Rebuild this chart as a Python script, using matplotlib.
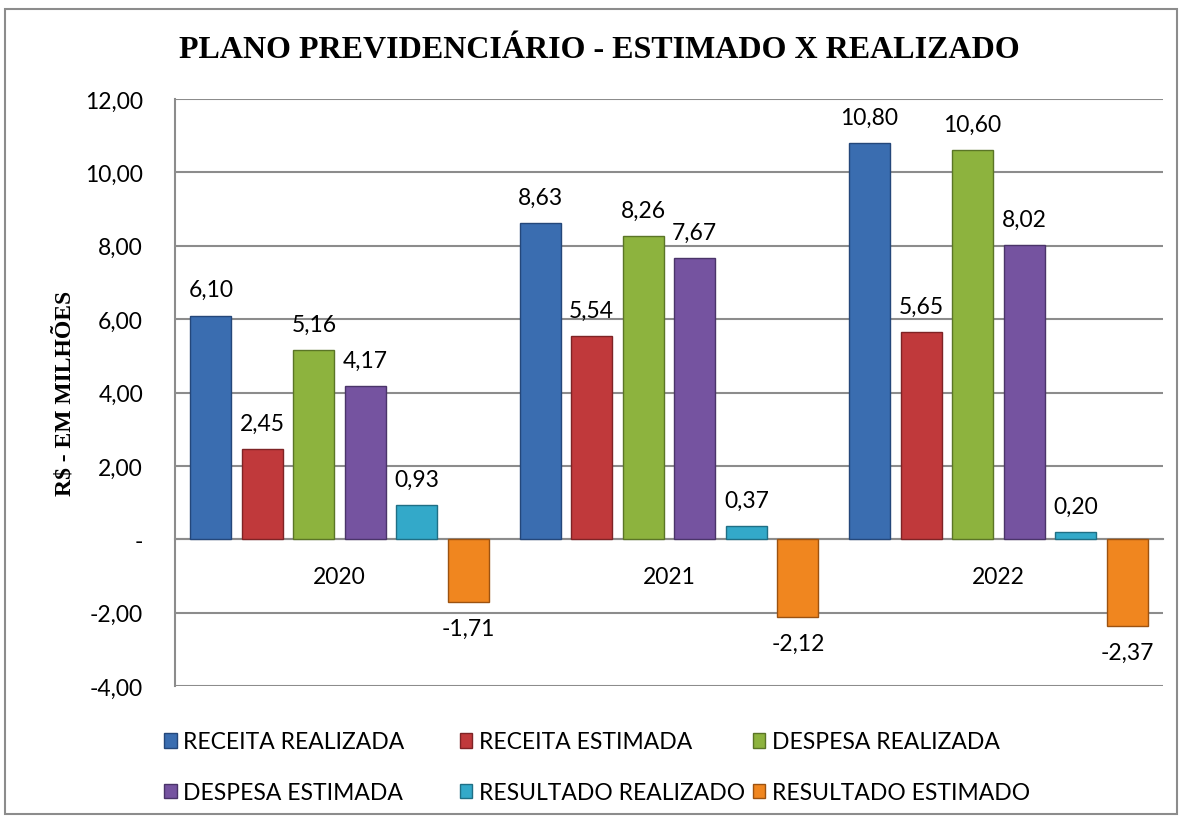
import numpy as np
import matplotlib.pyplot as plt
from matplotlib.patches import Rectangle

years = ['2020', '2021', '2022']
series = ['RECEITA REALIZADA', 'RECEITA ESTIMADA', 'DESPESA REALIZADA',
          'DESPESA ESTIMADA', 'RESULTADO REALIZADO', 'RESULTADO ESTIMADO']
receita_realizada = [6.10, 8.63, 10.80]
receita_estimada = [2.45, 5.54, 5.65]
despesa_realizada = [5.16, 8.26, 10.60]
despesa_estimada = [4.17, 7.67, 8.02]
resultado_realizado = [0.93, 0.37, 0.20]
resultado_estimado = [-1.71, -2.12, -2.37]
values = [receita_realizada, receita_estimada, despesa_realizada,
          despesa_estimada, resultado_realizado, resultado_estimado]
colors = ['#3A6DB0', '#C0393B', '#8DB33E', '#7553A0', '#33A9C9', '#F0861F']
edges = ['#24477A', '#7E2325', '#5A7526', '#4A3469', '#1F6F85', '#9C5210']
yticks = [-4, -2, 0, 2, 4, 6, 8, 10, 12]

def br(v):
    return f'{v:.2f}'.replace('.', ',')

plt.rcParams['font.family'] = ['Lato', 'DejaVu Sans']
fs = 16.5
fig = plt.figure(figsize=(11.82, 8.2), dpi=100)
fig.patches.append(Rectangle((0.004, 0.006), 0.992, 0.982, transform=fig.transFigure,
                             fill=False, edgecolor='#8C8C8C', lw=1.5))
ax = fig.add_axes([0.148, 0.162, 0.836, 0.716])

x = np.arange(len(years))
pitch = 0.1565; w = 0.1246
handles = []
for i, (name, vals) in enumerate(zip(series, values)):
    bars = ax.bar(x + (i - 2.5) * pitch, vals, w, color=colors[i], edgecolor=edges[i],
                  lw=1, label=name, zorder=3)
    ax.bar_label(bars, labels=[br(v) for v in vals], padding=11, fontsize=fs)
    handles.append(bars)

ax.set_xlim(-0.5, 2.5)
ax.set_ylim(-4, 12)
ax.set_yticks(yticks)
ax.set_yticklabels(['-' if t == 0 else br(t) for t in yticks], fontsize=fs)
ax.yaxis.grid(True, color='#8C8C8C', lw=1.5, zorder=0)
ax.tick_params(axis='y', length=0, pad=23)
ax.tick_params(axis='x', length=0, pad=19, labelsize=fs)
ax.set_xticks(x)
ax.set_xticklabels(years)
ax.spines['bottom'].set_position(('data', 0))
ax.spines['bottom'].set_color('#8C8C8C'); ax.spines['bottom'].set_linewidth(1.5)
ax.spines['left'].set_color('#8C8C8C'); ax.spines['left'].set_linewidth(1.5)
ax.spines['top'].set_visible(False); ax.spines['right'].set_visible(False)

ax.set_ylabel('R$ - EM MILHÕES', family='Liberation Serif', fontweight='bold', fontsize=17)
ax.yaxis.set_label_coords(-0.101, 0.5)
fig.text(0.507, 0.939, 'PLANO PREVIDENCIÁRIO - ESTIMADO X REALIZADO',
         family='Liberation Serif', fontweight='bold', fontsize=23, ha='center', va='center')

# legend: three fixed-width columns, filled row by row like the original
col_x = [0.131, 0.381, 0.629]
for c in range(3):
    fig.legend([handles[c], handles[c + 3]], [series[c], series[c + 3]],
               loc='upper left', bbox_to_anchor=(col_x[c], 0.118), frameon=False,
               fontsize=fs, handlelength=0.55, handleheight=0.6, handletextpad=0.3,
               labelspacing=1.3, borderaxespad=0)

fig.savefig('out.png', dpi=100)
